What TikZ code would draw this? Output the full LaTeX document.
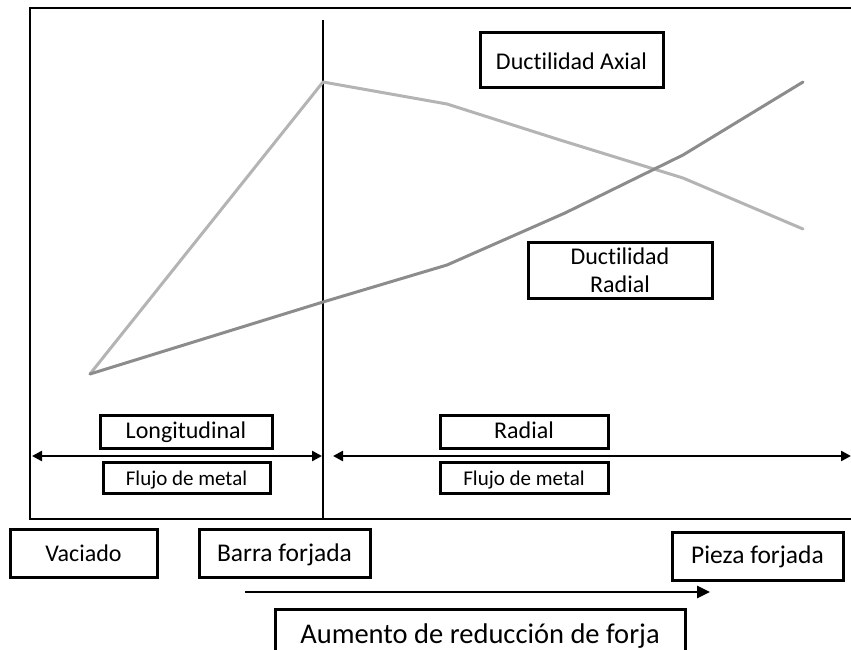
\documentclass[tikz,border=0pt]{standalone}
\usepackage{fontspec}
\setmainfont{Carlito}[Ligatures=NoCommon]
\usetikzlibrary{arrows.meta}
\definecolor{axialgray}{HTML}{B4B4B4}
\definecolor{radialgray}{HTML}{8C8C8C}
\tikzset{
  boxed/.style={draw=black, line width=3pt, fill=white, align=center, inner sep=0pt},
  lbl/.style={boxed, text height=18pt, text depth=2pt, font=\fontsize{24}{28}\selectfont},
  flow/.style={boxed, text height=16pt, text depth=1pt, font=\fontsize{21}{24}\selectfont},
  curve/.style={line width=3pt, line join=round, line cap=round},
  dbl/.style={line width=2.4pt, {Triangle[length=10pt,width=10pt]}-{Triangle[length=10pt,width=10pt]}},
}
\begin{document}
\begin{tikzpicture}[x=1pt,y=-1pt]
\useasboundingbox (0,0) rectangle (851,650);
% outer frame and divider
\draw[line width=2pt] (853,8) -- (30,8) -- (30,519) -- (853,519);
\coordinate (divtop) at (323,20);
\coordinate (divbot) at (323,519);
\draw[line width=2pt] (divtop) -- (divbot);
% ductility curves
\coordinate (a0) at (90,374);
\coordinate (a1) at (323,82);
\coordinate (a2) at (447,104);
\coordinate (a3) at (560,140);
\coordinate (a4) at (683,178);
\coordinate (a5) at (803,229);
\coordinate (r1) at (323,302);
\coordinate (r2) at (447,265);
\coordinate (r3) at (565,213);
\coordinate (r4) at (683,155);
\coordinate (r5) at (803,82);
\draw[curve, axialgray] (a0) -- (a1) -- (a2) -- (a3) -- (a4) -- (a5);
\draw[curve, radialgray] (a0) -- (r1) -- (r2) -- (r3) -- (r4) -- (r5);
% curve labels
\node[lbl, text height=19pt, text depth=1pt, minimum width=183pt, minimum height=55pt] (axial) at (571.5,60.5) {Ductilidad Axial};
\node[boxed, font=\fontsize{24}{28}\selectfont, minimum width=184pt, minimum height=56pt] (radial) at (620,270) {Ductilidad\\Radial};
% flow regions
\coordinate (lA) at (32,456);
\coordinate (lB) at (322,456);
\coordinate (rA) at (333,456);
\coordinate (rB) at (851,456);
\draw[dbl] (lA) -- (lB);
\draw[dbl] (rA) -- (rB);
\node[lbl, text height=16pt, text depth=3pt, minimum width=172pt, minimum height=33pt] (longi) at (186,431.5) {Longitudinal};
\node[lbl, text height=16pt, text depth=3pt, minimum width=168pt, minimum height=33pt] (radi) at (524,431.5) {Radial};
\node[flow, minimum width=167pt, minimum height=31pt] (flujoL) at (186.5,477.5) {Flujo de metal};
\node[flow, minimum width=168pt, minimum height=31pt] (flujoR) at (524,477.5) {Flujo de metal};
% process stages
\node[lbl, minimum width=147pt, minimum height=48pt] (vac) at (83.5,553) {Vaciado};
\node[lbl, minimum width=171pt, minimum height=48pt, font=\fontsize{25.5}{30}\selectfont] (barra) at (284.5,553) {Barra forjada};
\node[lbl, text height=17pt, text depth=3pt, minimum width=171pt, minimum height=48pt, font=\fontsize{25.5}{30}\selectfont] (pieza) at (757.5,556) {Pieza forjada};
\coordinate (sA) at (245,592);
\coordinate (sB) at (710,592);
\draw[line width=2.6pt, -{Triangle[length=13pt,width=12pt]}] (sA) -- (sB);
\node[lbl, text height=18pt, text depth=2pt, minimum width=410pt, minimum height=52pt, font=\fontsize{28.5}{34}\selectfont] (aum) at (480,635) {Aumento de reducción de forja};
\end{tikzpicture}
\end{document}
